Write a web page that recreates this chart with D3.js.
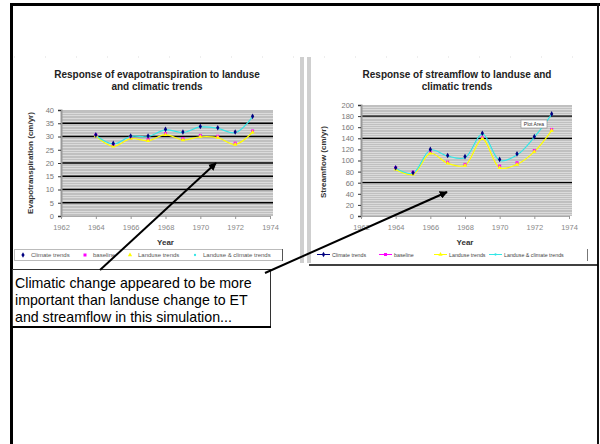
<!DOCTYPE html>
<html>
<head>
<meta charset="utf-8">
<script src="https://cdn.jsdelivr.net/npm/d3@7"></script>
<style>
  body { margin: 0; background: #fff; }
  svg { display: block; font-family: "Liberation Sans", Arial, sans-serif; }
</style>
</head>
<body>
<svg id="chart" width="600" height="444"></svg>
<script>
// data
const years = [1964, 1965, 1966, 1967, 1968, 1969, 1970, 1971, 1972, 1973];
const yearTicks = [1962, 1964, 1966, 1968, 1970, 1972, 1974];
const seriesNames = ["Climate trends", "baseline", "Landuse trends", "Landuse & climate trends"];

const etClimate  = [30.6, 27.4, 30.2, 30.2, 32.7, 31.7, 33.8, 33.3, 31.7, 37.6];
const etBaseline = [30.6, 26.7, 29.4, 28.9, 31.1, 29.2, 30.4, 30.1, 27.5, 32.1];
const etLanduse  = [30.2, 26.3, 29.2, 28.4, 30.7, 28.7, 29.9, 29.6, 27.0, 31.6];
const etBoth     = [30.4, 27.2, 30.0, 30.0, 32.5, 31.5, 33.6, 33.1, 31.4, 37.4];
const etTicks = [0, 5, 10, 15, 20, 25, 30, 35, 40];
const etMajor = [5, 10, 15, 20, 30, 35];

const sfClimate  = [87, 78, 120, 109, 107, 149, 102, 112, 143, 184];
const sfBaseline = [87, 79, 115, 97, 93, 141, 90, 96, 118, 156];
const sfLanduse  = [84, 75, 113, 95, 91, 139, 87, 93, 116, 154];
const sfBoth     = [86, 77, 119, 108, 105, 148, 100, 110, 142, 183];
const sfTicks = [0, 20, 40, 60, 80, 100, 120, 140, 160, 180, 200];
const sfMajor = [60, 140, 180];

const noteLines = [
  "Climatic change appeared to be more",
  "important than landuse change to ET",
  "and streamflow in this simulation..."
];

const colors = ["#000080", "#ff00ff", "#ffff00", "#33e6e6"];
const symbols = [d3.symbolDiamond, d3.symbolSquare, d3.symbolTriangle, d3.symbolCircle];
const markSize = [9, 9, 8, 4];

const svg = d3.select("#chart");
svg.append("rect").attr("width", 600).attr("height", 444).attr("fill", "#fff");

// 外枠
svg.append("rect").attr("x", 10).attr("y", 3).attr("width", 3).attr("height", 441).attr("fill", "#000");
svg.append("rect").attr("x", 10).attr("y", 3).attr("width", 590).attr("height", 3).attr("fill", "#000");
svg.append("rect").attr("x", 597).attr("y", 3).attr("width", 2).attr("height", 441).attr("fill", "#111");
svg.append("line").attr("x1", 14).attr("x2", 592).attr("y1", 57).attr("y2", 57)
  .attr("stroke", "#ddd").attr("stroke-dasharray", "1,30");

// 右チャートの区切り
svg.append("rect").attr("x", 300).attr("y", 57).attr("width", 4).attr("height", 206).attr("fill", "#cfcfcf");
svg.append("rect").attr("x", 307).attr("y", 57).attr("width", 4).attr("height", 206).attr("fill", "#cfcfcf");
svg.append("line").attr("x1", 309).attr("x2", 598).attr("y1", 265).attr("y2", 265)
  .attr("stroke", "#000").attr("stroke-width", 1.5);

function drawPanel(p) {
  const g = svg.append("g");
  const x = d3.scaleLinear().domain([1962, 1974]).range([p.left, p.right]);
  const y = d3.scaleLinear().domain([0, p.max]).range([216, p.top]);

  // plot area
  g.append("rect").attr("x", p.left).attr("y", p.top)
    .attr("width", p.right - p.left + 3).attr("height", 216 - p.top).attr("fill", "#c0c0c0");
  g.append("g").selectAll("line").data(d3.range(p.minor, p.max, p.minor)).join("line")
    .attr("x1", p.left).attr("x2", p.right + 3)
    .attr("y1", d => Math.round(y(d)) + 0.5).attr("y2", d => Math.round(y(d)) + 0.5)
    .attr("stroke", "#fff").attr("stroke-opacity", 0.55).attr("stroke-width", 0.8);
  g.append("g").selectAll("line").data(p.major).join("line")
    .attr("x1", p.left).attr("x2", p.right + 3)
    .attr("y1", d => y(d)).attr("y2", d => y(d))
    .attr("stroke", "#000").attr("stroke-width", 1.3);

  // axes
  const ya = g.append("g").attr("transform", `translate(${p.left},0)`)
    .call(d3.axisLeft(y).tickValues(p.ticks).tickSize(3).tickPadding(4));
  ya.select(".domain").attr("stroke", "#999").attr("stroke-width", 2);
  ya.selectAll(".tick line").attr("stroke", "#333");
  ya.selectAll("text").attr("fill", "#777").attr("font-size", 7.5).attr("font-family", null);

  const xa = g.append("g").attr("transform", "translate(0,216)")
    .call(d3.axisBottom(x).tickValues(yearTicks).tickFormat(d3.format("d")).tickSize(3).tickPadding(6));
  xa.select(".domain").attr("stroke", "#aaa");
  xa.selectAll(".tick line").attr("stroke", "#999");
  xa.selectAll("text").attr("fill", "#888").attr("font-size", 7.5).attr("font-family", null);

  // titles
  g.append("text").attr("x", p.titleX).attr("text-anchor", "middle")
    .attr("font-weight", "bold").attr("font-size", 10).attr("fill", "#222")
    .selectAll("tspan").data(p.title).join("tspan")
    .attr("x", p.titleX).attr("y", (d, i) => 78 + i * 12).text(d => d);
  g.append("text").attr("x", (p.left + p.right) / 2).attr("y", 245).attr("text-anchor", "middle")
    .attr("font-weight", "bold").attr("font-size", 8).attr("fill", "#333").text("Year");
  g.append("text").attr("transform", `translate(${p.ylabelX},${p.ylabelY}) rotate(-90)`)
    .attr("text-anchor", "middle").attr("font-weight", "bold").attr("font-size", 8)
    .attr("fill", "#333").text(p.ylabel);

  // lines
  const line = d3.line().x((d, i) => x(years[i])).y(d => y(d)).curve(d3.curveCatmullRom);
  [[p.data[2], colors[2]], [p.data[3], colors[3]]].forEach(([vals, c]) => {
    g.append("path").attr("d", line(vals)).attr("fill", "none").attr("stroke", c).attr("stroke-width", 1.2);
  });

  // markers
  [1, 2, 0].forEach(k => {
    g.append("g").selectAll("path").data(p.data[k]).join("path")
      .attr("transform", (d, i) => `translate(${x(years[i])},${y(d)})`)
      .attr("d", d3.symbol().type(symbols[k]).size(markSize[k]))
      .attr("fill", colors[k]);
  });
  return { x, y };
}

drawPanel({
  left: 61, right: 270, top: 110, max: 40, minor: 1,
  ticks: etTicks, major: etMajor, data: [etClimate, etBaseline, etLanduse, etBoth],
  title: ["Response of evapotranspiration to landuse", "and climatic trends"], titleX: 157,
  ylabel: "Evapotranspiration (cm/yr)", ylabelX: 33, ylabelY: 163
});

drawPanel({
  left: 361, right: 569, top: 105, max: 200, minor: 4,
  ticks: sfTicks, major: sfMajor, data: [sfClimate, sfBaseline, sfLanduse, sfBoth],
  title: ["Response of streamflow to landuse and", "climatic trends"], titleX: 457,
  ylabel: "Streamflow (cm/yr)", ylabelX: 326, ylabelY: 162
});

// "Plot Area" tip
svg.append("rect").attr("x", 521).attr("y", 120).attr("width", 26).attr("height", 8)
  .attr("fill", "#fff").attr("stroke", "#888").attr("stroke-width", 0.6);
svg.append("text").attr("x", 534).attr("y", 126).attr("text-anchor", "middle")
  .attr("font-size", 5).attr("fill", "#333").text("Plot Area");

// legends
const lg = svg.append("g");
lg.append("rect").attr("x", 14.5).attr("y", 249.5).attr("width", 268).attr("height", 11)
  .attr("fill", "#fff").attr("stroke", "#bbb");
lg.append("line").attr("x1", 282.5).attr("x2", 282.5).attr("y1", 249).attr("y2", 261).attr("stroke", "#555");
const leftLegX = [23, 85, 130, 195];
seriesNames.forEach((n, k) => {
  lg.append("path").attr("transform", `translate(${leftLegX[k]},255)`)
    .attr("d", d3.symbol().type(symbols[k]).size(markSize[k])).attr("fill", colors[k]);
  lg.append("text").attr("x", leftLegX[k] + 8).attr("y", 257).attr("font-size", 6)
    .attr("fill", "#555").text(n);
});

const rg = svg.append("g");
rg.append("line").attr("x1", 587.5).attr("x2", 587.5).attr("y1", 249).attr("y2", 261).attr("stroke", "#777");
const rightLegX = [317, 379, 434, 489];
seriesNames.forEach((n, k) => {
  rg.append("line").attr("x1", rightLegX[k]).attr("x2", rightLegX[k] + 13)
    .attr("y1", 254.5).attr("y2", 254.5).attr("stroke", colors[k]).attr("stroke-width", 1);
  rg.append("path").attr("transform", `translate(${rightLegX[k] + 6.5},254.5)`)
    .attr("d", d3.symbol().type(symbols[k]).size(markSize[k])).attr("fill", colors[k]);
  rg.append("text").attr("x", rightLegX[k] + 15).attr("y", 256.5).attr("font-size", 5.3)
    .attr("fill", "#444").text(n);
});

// note box
svg.append("rect").attr("x", 12.5).attr("y", 269.5).attr("width", 258).attr("height", 57)
  .attr("fill", "#fff").attr("stroke", "#333").attr("stroke-width", 1);
svg.append("line").attr("x1", 12).attr("x2", 271).attr("y1", 327).attr("y2", 327)
  .attr("stroke", "#000").attr("stroke-width", 2);
svg.append("text").attr("font-size", 14.2).attr("fill", "#000")
  .selectAll("tspan").data(noteLines).join("tspan")
  .attr("x", 15).attr("y", (d, i) => 288 + i * 17).text(d => d);

// arrows
svg.append("defs").append("marker").attr("id", "ah").attr("viewBox", "0 0 10 10")
  .attr("refX", 9).attr("refY", 5).attr("markerWidth", 4).attr("markerHeight", 4)
  .attr("orient", "auto").append("path").attr("d", "M0,0L10,5L0,10z").attr("fill", "#000");
[[100, 270, 216, 163], [265, 273, 447, 192]].forEach(([x1, y1, x2, y2]) => {
  svg.append("line").attr("x1", x1).attr("y1", y1).attr("x2", x2).attr("y2", y2)
    .attr("stroke", "#000").attr("stroke-width", 2).attr("marker-end", "url(#ah)");
});
</script>
</body>
</html>
